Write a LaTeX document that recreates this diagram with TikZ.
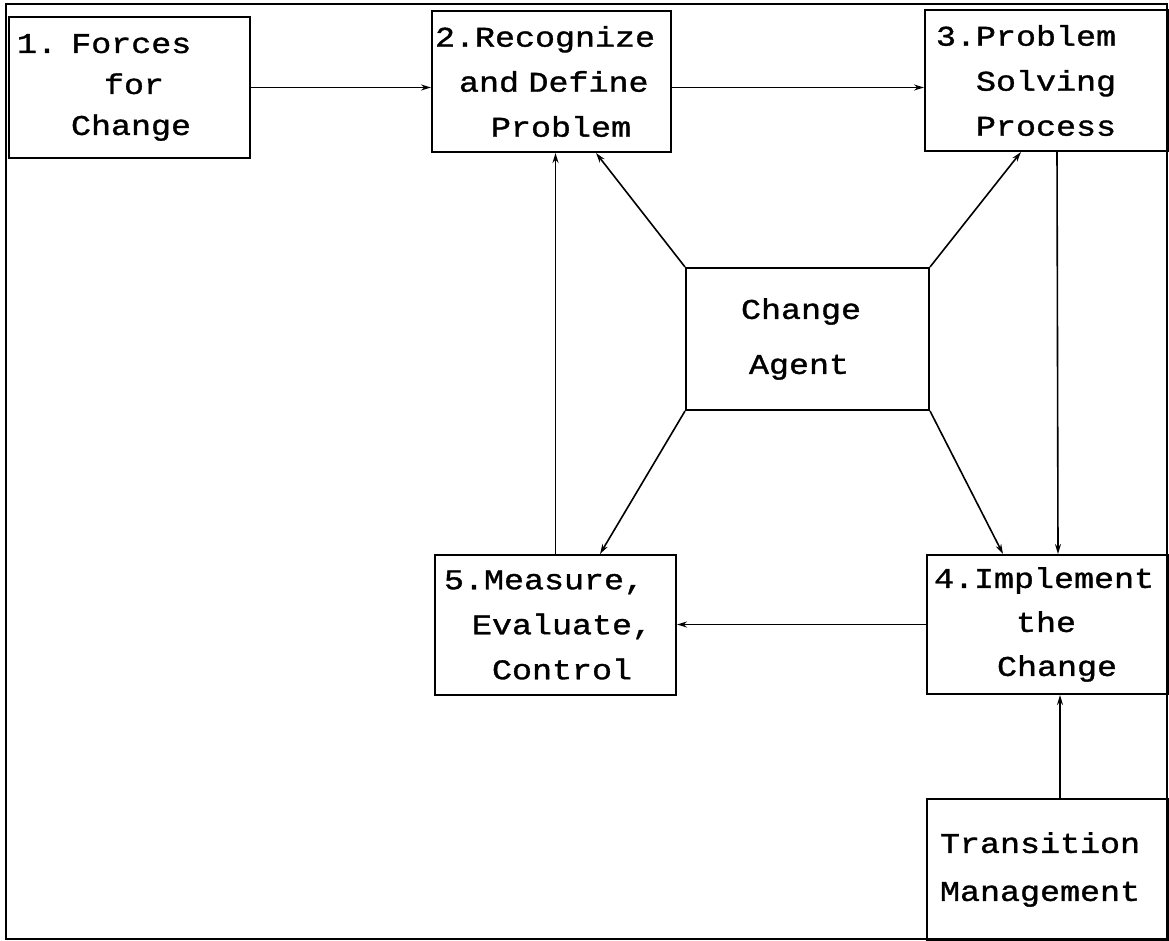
\documentclass[tikz,border=0pt]{standalone}
\usepackage{fontspec}
\newfontfamily\boxfont{Liberation Mono}[FakeStretch=1.17, FakeBold=1.2]
\usetikzlibrary{arrows.meta}
\begin{document}
\begin{tikzpicture}[x=1pt,y=-1pt,
  box/.style={draw, line width=2pt, anchor=north west, inner sep=0pt, align=left},
  bf/.style={font=\boxfont\fontsize{28.5}{#1}\selectfont},
  arr/.style={line width=1.6pt, -{Stealth[length=10pt,width=6pt]}},
  conn/.style={line width=1.6pt}]
\useasboundingbox (0,0) rectangle (1169,941);
\fill[white] (0,0) rectangle (1169,941);
\draw[line width=2.4pt] (6,4) rectangle (1167,939);

\node[box, bf=41, minimum width=241pt, minimum height=141pt, text width=241pt] (f) at (8,16)
  {\hspace*{8pt}1. Forces\\\hspace*{95pt}for\\\hspace*{62pt}Change};
\node[box, bf=45, minimum width=239pt, minimum height=141pt, text width=239pt] (r) at (431,10)
  {\hspace*{3pt}2.Recognize\\\hspace*{27pt}and Define\\\hspace*{59pt}Problem};
\node[box, bf=45, minimum width=243pt, minimum height=141pt, text width=243pt] (p) at (924,9)
  {\hspace*{11pt}3.Problem\\\hspace*{51pt}Solving\\\hspace*{51pt}Process};
\node[box, bf=55, minimum width=243pt, minimum height=142pt, text width=243pt] (a) at (685,267)
  {\hspace*{55pt}Change\\\hspace*{63pt}Agent};
\node[box, bf=45, minimum width=241pt, minimum height=140pt, text width=241pt] (m) at (434,554)
  {\hspace*{9pt}5.Measure,\\\hspace*{37pt}Evaluate,\\\hspace*{57pt}Control};
\node[box, bf=44, minimum width=241pt, minimum height=139pt, text width=241pt] (i) at (926,554)
  {\hspace*{7pt}4.Implement\\\hspace*{89pt}the\\\hspace*{70pt}Change};
\node[box, bf=48, minimum width=241pt, minimum height=141pt, text width=241pt] (t) at (926,798)
  {\hspace*{13pt}Transition\\\hspace*{13pt}Management};

\draw[arr] (f.east) -- (f.east -| r.west);
\draw[arr] (f.east -| r.east) -- (f.east -| p.west);
\draw[arr] (m.north) -- (m.north |- r.south);
\draw[arr] (a.north west) -- ([xshift=44.5pt]r.south);
\draw[arr] (a.north east) -- ([xshift=-25.5pt]p.south);
\draw[arr] ([xshift=10.5pt]p.south) -- ([xshift=10.5pt]i.north);
\draw[arr] (a.south east) -- ([xshift=-44.5pt]i.north);
\draw[arr] (a.south west) -- ([xshift=44.5pt]m.north);
\draw[arr] (i.west) -- (i.west -| m.east);
\draw[arr] ([xshift=12.5pt]t.north) -- ([xshift=12.5pt]i.south);
\end{tikzpicture}
\end{document}
